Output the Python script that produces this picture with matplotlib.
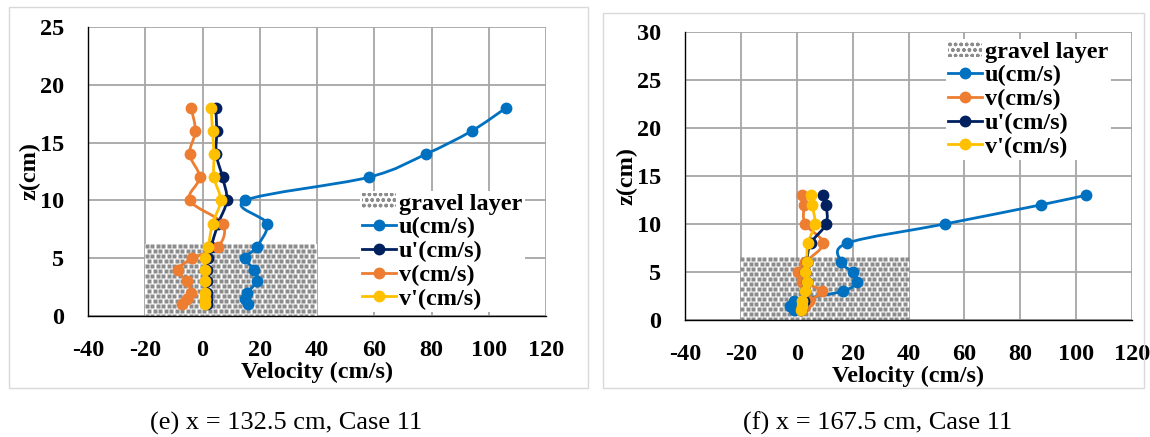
import matplotlib.pyplot as plt
import numpy as np
from matplotlib.path import Path
from matplotlib.patches import PathPatch, Patch, Rectangle
from matplotlib.lines import Line2D

plt.rcParams['font.family'] = ['Liberation Serif', 'DejaVu Serif']
plt.rcParams['axes.unicode_minus'] = False
plt.rcParams['hatch.color'] = '#8C8C8C'

# ---- data, panel (e) x = 132.5 cm
z_e = [18, 16, 14, 12, 10, 8, 6, 5, 4, 3, 2, 1.5, 1]
u_e = [106, 94, 78, 58, 15, 22.5, 19, 15, 18, 19, 15.5, 15, 16]
up_e = [4.6, 5, 4.8, 7, 8.5, 5.5, 3, 2, 1.5, 1.5, 1.5, 1.5, 1.5]
v_e = [-4, -2.5, -4.5, -1, -4.5, 7, 5.5, -3.5, -8.5, -5.5, -4, -5.5, -7]
vp_e = [3, 3.5, 4, 4, 6.3, 3.5, 2, 1, 1, 1, 1, 1, 1]
gravel_e = 6.2

# ---- data, panel (f) x = 167.5 cm
z_f = [13, 12, 10, 8, 6, 5, 4, 3, 2, 1.5, 1]
u_f = [103.5, 87.5, 53, 18, 16, 20, 21.5, 16.5, -1, -2.5, -1]
v_f = [2, 2.5, 3, 9.5, 3, 0.5, 2, 9, 4.5, 3, 2]
up_f = [9.5, 10.5, 10.5, 5, 3.5, 3, 3.5, 3, 2.5, 2, 1.5]
vp_f = [5, 5.5, 6.5, 4, 3.5, 3, 3.5, 3, 2, 2, 1.5]
gravel_f = 6.5

gravel_x = [-20, 40]
xticks = [-40, -20, 0, 20, 40, 60, 80, 100, 120]

c_u = '#0070C0'
c_up = '#002060'
c_v = '#ED7D31'
c_vp = '#FFC000'
grid_c = '#A6A6A6'
FS = 17.5


def smooth_line(ax, x, y, color):
    # excel style smoothed line (cubic bezier through the points)
    P = np.column_stack([x, y]).astype(float)
    n = len(P)
    verts = [P[0]]
    codes = [Path.MOVETO]
    for i in range(n - 1):
        p0 = P[i - 1] if i > 0 else P[i]
        p1, p2 = P[i], P[i + 1]
        p3 = P[i + 2] if i + 2 < n else P[i + 1]
        c1 = p1 + (p2 - p0) / 6.0
        c2 = p2 - (p3 - p1) / 6.0
        verts += [c1, c2, p2]
        codes += [Path.CURVE4] * 3
    ax.add_patch(PathPatch(Path(verts, codes), fill=False, edgecolor=color,
                           lw=2.0, zorder=3, capstyle='round', joinstyle='round'))
    ax.plot(x, y, 'o', color=color, ms=7.5, zorder=4)


def gravel(ax, top, ymax, ax_px_w, ax_px_h):
    # white box with a staggered dot texture (~5 px pitch)
    rect = Rectangle((gravel_x[0], 0), gravel_x[1] - gravel_x[0], top,
                     facecolor='white', edgecolor='none', zorder=1)
    ax.add_patch(rect)
    dx = 5.5 * 160 / ax_px_w
    dy = 5.0 * ymax / ax_px_h
    ys = np.arange(top - dy / 3, 0, -dy)
    for k, yy in enumerate(ys):
        xs = np.arange(gravel_x[0] + dx / 4 + (k % 2) * dx / 2, gravel_x[1], dx)
        ax.plot(xs, np.full_like(xs, yy), 's', ms=2.3, mec='none', color='#8C8C8C',
                zorder=1.5, clip_path=rect)


def setup(ax, ymax):
    ax.set_xlim(-40, 120)
    ax.set_ylim(0, ymax)
    ax.set_xticks(xticks)
    ax.set_yticks(np.arange(0, ymax + 1, 5))
    ax.grid(True, color=grid_c, lw=1.3)
    ax.set_axisbelow(True)
    for s in ['top', 'right']:
        ax.spines[s].set_visible(False)
    for s in ['left', 'bottom']:
        ax.spines[s].set_color('black')
        ax.spines[s].set_linewidth(1.0)
        ax.spines[s].set_zorder(5)
    ax.tick_params(length=0, pad=17, labelsize=FS)
    for lab in ax.get_xticklabels() + ax.get_yticklabels():
        lab.set_fontweight('bold')
    ax.set_xlabel('Velocity (cm/s)', fontsize=FS, fontweight='bold', labelpad=1)
    ax.set_ylabel('z(cm)', fontsize=FS, fontweight='bold', labelpad=0)


fig = plt.figure(figsize=(11.5, 4.37), dpi=100)
W, H = 1150, 437

# panel borders
fig.patches.append(Rectangle((9 / W, 1 - 388 / H), 579 / W, 381 / H, transform=fig.transFigure,
                             fill=False, edgecolor='#D9D9D9', lw=1))
fig.patches.append(Rectangle((603 / W, 1 - 388 / H), 541 / W, 375 / H, transform=fig.transFigure,
                             fill=False, edgecolor='#D9D9D9', lw=1))

ax1 = fig.add_axes([88 / W, 1 - 316 / H, 458 / W, 289 / H])
ax2 = fig.add_axes([685 / W, 1 - 320 / H, 447 / W, 288 / H])

setup(ax1, 25)
setup(ax2, 30)

gravel(ax1, gravel_e, 25, 458, 289)
gravel(ax2, gravel_f, 30, 447, 288)

smooth_line(ax1, u_e, z_e, c_u)
smooth_line(ax1, up_e, z_e, c_up)
smooth_line(ax1, v_e, z_e, c_v)
smooth_line(ax1, vp_e, z_e, c_vp)

smooth_line(ax2, u_f, z_f, c_u)
smooth_line(ax2, v_f, z_f, c_v)
smooth_line(ax2, up_f, z_f, c_up)
smooth_line(ax2, vp_f, z_f, c_vp)

ax1.set_xlim(-40, 120)
ax1.set_ylim(0, 25)
ax2.set_xlim(-40, 120)
ax2.set_ylim(0, 30)


def hl(c, lab):
    return Line2D([], [], color=c, lw=2.0, marker='o', ms=7.5, label=lab)


gp = Patch(facecolor='white', edgecolor='#8C8C8C', hatch='ooo', lw=0, label='gravel layer')

leg_kw = dict(frameon=True, framealpha=1, edgecolor='none', fancybox=False,
              prop={'size': FS, 'weight': 'bold'}, handlelength=1.4, handletextpad=0.1,
              labelspacing=0.1, borderpad=0.1, borderaxespad=0.0, handleheight=0.6)

l1 = ax1.legend(handles=[gp, hl(c_u, 'u(cm/s)'), hl(c_up, "u'(cm/s)"), hl(c_v, 'v(cm/s)'), hl(c_vp, "v'(cm/s)")],
                loc='upper left', bbox_to_anchor=((360 - 88) / 458, (316 - 191) / 289), **leg_kw)
l1.set_zorder(6)
l2 = ax2.legend(handles=[gp, hl(c_u, 'u(cm/s)'), hl(c_v, 'v(cm/s)'), hl(c_up, "u'(cm/s)"), hl(c_vp, "v'(cm/s)")],
                loc='upper left', bbox_to_anchor=((946 - 685) / 447, (320 - 39) / 288), **leg_kw)
l2.set_zorder(6)

fig.text(286 / W, 1 - 423 / H, '(e) x = 132.5 cm, Case 11', fontsize=19, ha='center', va='center')
fig.text(878 / W, 1 - 423 / H, '(f) x = 167.5 cm, Case 11', fontsize=19, ha='center', va='center')

fig.savefig('out.png', dpi=100, facecolor='white')
